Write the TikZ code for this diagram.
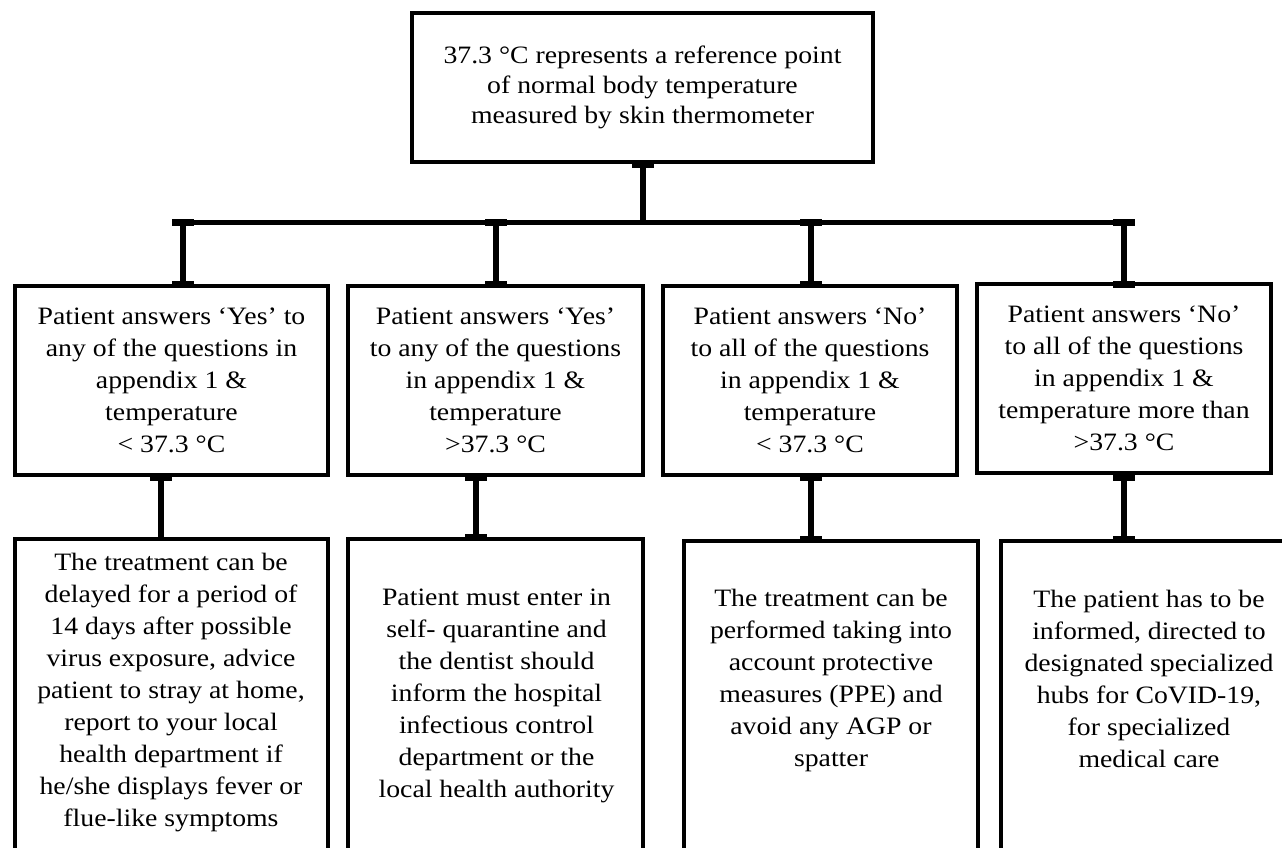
\documentclass[tikz,border=0pt]{standalone}
\usepackage{fontspec}
\setmainfont{Liberation Serif}[FakeStretch=1.11]
\usetikzlibrary{calc}
\tikzset{
  box/.style={draw, line width=4pt, inner sep=0pt, align=center, font=\fontsize{25}{32}\selectfont},
  txt/.style={inner sep=0pt, align=center, font=\fontsize{25}{32}\selectfont},
  conn/.style={line width=6pt},
  bus/.style={line width=4.5pt},
  tcap/.style={fill=black},
}
\newcommand\tickcap[1]{\fill[tcap] ($(#1)+(-11,-3.5)$) rectangle ($(#1)+(11,3.5)$);}
\begin{document}
\begin{tikzpicture}[x=1pt,y=-1pt]
\useasboundingbox (0,0) rectangle (1282,848);
\clip (0,0) rectangle (1282,848);
\fill[white] (0,0) rectangle (1282,848);

% top
\node[box, minimum width=461, minimum height=149, font=\fontsize{25}{30}\selectfont] (top) at (642.5,87.5)
  {37.3 °C represents a reference point\\of normal body temperature\\measured by skin thermometer};

% row 2
\node[box, minimum width=313, minimum height=189] (b1) at (171.5,380.5)
  {Patient answers ‘Yes’ to\\any of the questions in\\appendix 1 \&\\temperature\\< 37.3 °C};
\node[box, minimum width=295, minimum height=189] (b2) at (495.5,380.5)
  {Patient answers ‘Yes’\\to any of the questions\\in appendix 1 \&\\temperature\\>37.3 °C};
\node[box, minimum width=294, minimum height=189] (b3) at (810,380.5)
  {Patient answers ‘No’\\to all of the questions\\in appendix 1 \&\\temperature\\< 37.3 °C};
\node[box, minimum width=294, minimum height=189] (b4) at (1124,378.5)
  {Patient answers ‘No’\\to all of the questions\\in appendix 1 \&\\temperature more than\\>37.3 °C};

% row 3 boxes
\node[box, minimum width=313, minimum height=340, anchor=north] (b5) at (171.5,537) {};
\node[box, minimum width=295, minimum height=340, anchor=north] (b6) at (495.5,537) {};
\node[box, minimum width=294, minimum height=340, anchor=north] (b7) at (831,539) {};
\node[box, minimum width=296, minimum height=340, anchor=north] (b8) at (1149,539) {};

\node[txt] (t5) at (171,693) {The treatment can be\\delayed for a period of\\14 days after possible\\virus exposure, advice\\patient to stray at home,\\report to your local\\health department if\\he/she displays fever or\\flue-like symptoms};
\node[txt] (t6) at (496.5,696) {Patient must enter in\\self- quarantine and\\the dentist should\\inform the hospital\\infectious control\\department or the\\local health authority};
\node[txt] (t7) at (831,680) {The treatment can be\\performed taking into\\account protective\\measures (PPE) and\\avoid any AGP or\\spatter};
\node[txt] (t8) at (1149,679) {The patient has to be\\informed, directed to\\designated specialized\\hubs for CoVID-19,\\for specialized\\medical care};

% coordinates
\coordinate (busY) at (0,222.5);
\coordinate (u1) at ($(b1.north)+(11,0)$);
\coordinate (u2) at (b2.north);
\coordinate (u3) at ($(b3.north)+(1,0)$);
\coordinate (u4) at (b4.north |- b1.north);
\coordinate (v0) at (top.south |- busY);
\coordinate (v1) at (u1 |- busY);
\coordinate (v2) at (u2 |- busY);
\coordinate (v3) at (u3 |- busY);
\coordinate (v4) at (u4 |- busY);
\coordinate (d1) at ($(b1.south)+(-10.5,0)$);
\coordinate (d2) at ($(b2.south)+(-19.5,0)$);
\coordinate (d3) at ($(b3.south)+(1,0)$);
\coordinate (d4) at (b4.south |- b1.south);
\coordinate (e1) at (d1 |- b5.north);
\coordinate (e2) at (d2 |- b6.north);
\coordinate (e3) at (d3 |- b7.north);
\coordinate (e4) at (d4 |- b8.north);

% connectors
\draw[conn] (top.south) -- (v0);
\draw[bus] (v1) -- (v4);
\draw[conn] (u1) -- (v1);
\draw[conn] (u2) -- (v2);
\draw[conn] (u3) -- (v3);
\draw[conn] (u4) -- (v4);
\draw[conn] (d1) -- (e1);
\draw[conn] (d2) -- (e2);
\draw[conn] (d3) -- (e3);
\draw[conn] (d4) -- (e4);

% end caps
\tickcap{top.south}
\tickcap{v1}\tickcap{v2}\tickcap{v3}\tickcap{v4}
\tickcap{u1}\tickcap{u2}\tickcap{u3}\tickcap{u4}
\tickcap{d1}\tickcap{d2}\tickcap{d3}\tickcap{d4}
\tickcap{e2}\tickcap{e3}\tickcap{e4}
\fill[tcap] (697,219.5) rectangle (706,222);
\end{tikzpicture}
\end{document}
